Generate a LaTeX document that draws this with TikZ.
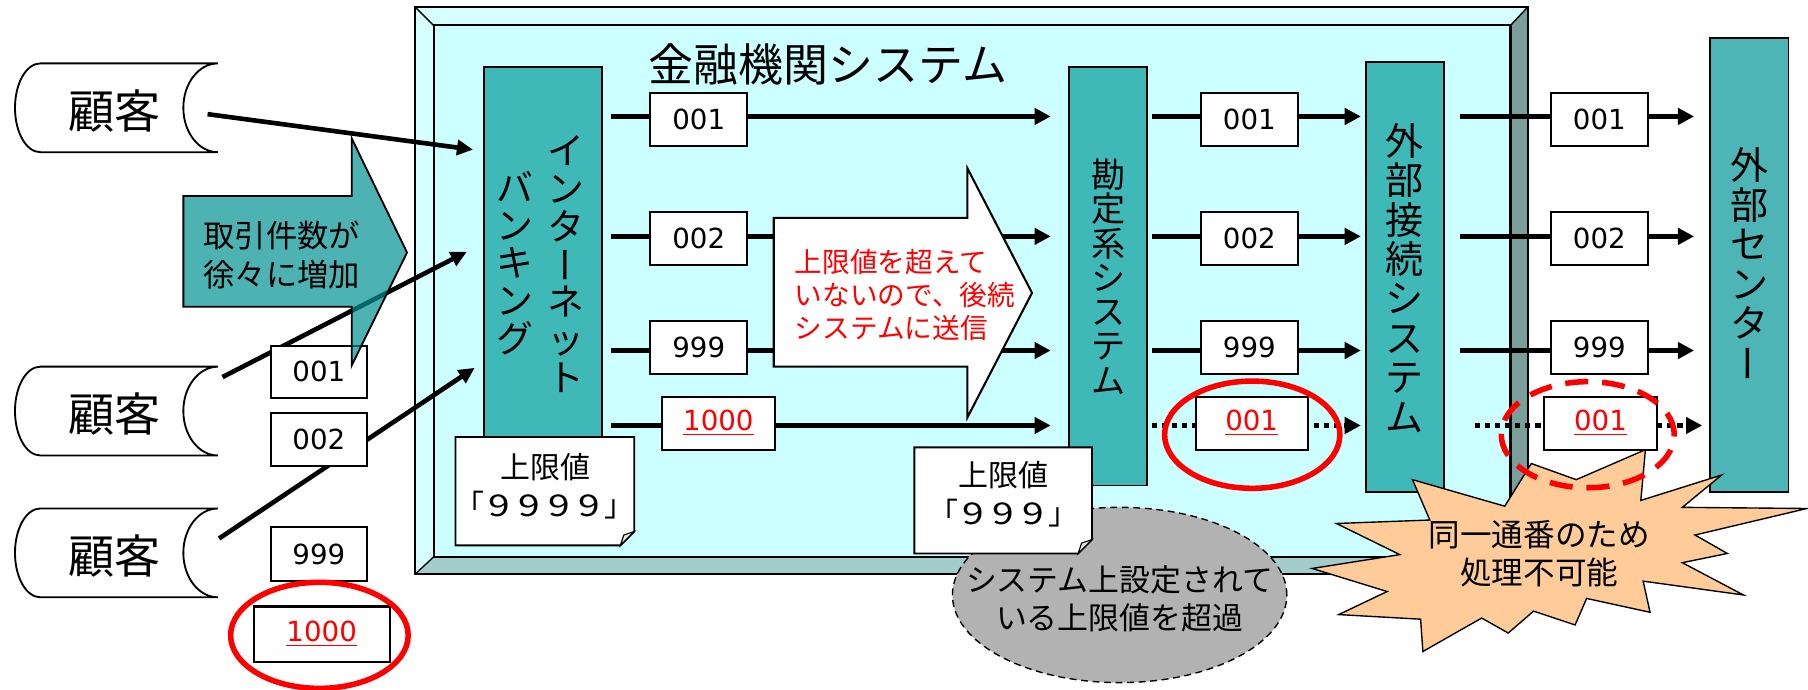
\documentclass[tikz,border=0pt]{standalone}
\usepackage{fontspec}
\setmainfont{Noto Sans CJK JP}
\newfontfamily\numfont{DejaVu Sans}
\usepackage{graphicx}
\usetikzlibrary{arrows.meta,shapes.geometric,calc}
\newcommand\myfs[2]{\fontsize{#1}{#2}\selectfont}
\newcommand\vchoon{\rotatebox[origin=c]{90}{\vphantom{国}ー}}
\newcommand\wnine{\makebox[13pt]{\scalebox{1.3}[1]{9}}}
\definecolor{systeal}{RGB}{63,184,184}
\definecolor{ecteal}{RGB}{77,181,181}
\definecolor{face}{RGB}{204,255,255}
\definecolor{bevlight}{RGB}{214,255,255}
\definecolor{bevbot}{RGB}{163,204,204}
\definecolor{bevright}{RGB}{122,158,154}
\definecolor{peach}{RGB}{255,204,153}
\definecolor{grayell}{RGB}{178,178,178}
\definecolor{arrteal}{RGB}{0,146,146}
\begin{document}
\lineskiplimit=-100pt
\begin{tikzpicture}[x=0.5pt,y=-0.5pt,
  sysbox/.style={draw=black,line width=0.8pt,fill=systeal,inner sep=0pt},
  vtext/.style={align=center,inner sep=0pt},
  numbox/.style={draw=black,line width=0.9pt,fill=white,inner sep=0pt,minimum width=42pt,minimum height=23pt,font=\numfont\myfs{12}{12}},
  redbox/.style={numbox,text=red},
  flow/.style={line width=2.2pt,-{Triangle[length=7pt,width=7pt]}},
  dotflow/.style={flow,dash pattern=on 2.2pt off 2.2pt},
  carrow/.style={line width=2pt,-{Triangle[length=7pt,width=6.5pt]}},
  redring/.style={draw=red,line width=2.4pt},
  notebox/.style={draw=black,line width=0.8pt,fill=white},
  notenum/.style={inner sep=0pt,font=\myfs{13}{13}},
  custline/.style={draw=black,line width=0.8pt,fill=white},
  cust/.pic={\path[custline] (88,-38.5) -- (-66,-38.5)
      .. controls (-78.2,-38.5) and (-88,-21.3) .. (-88,0)
      .. controls (-88,21.3) and (-78.2,38.5) .. (-66,38.5) -- (88,38.5)
      .. controls (71.4,38.5) and (58,21.3) .. (58,0)
      .. controls (58,-21.3) and (71.4,-38.5) .. (88,-38.5) -- cycle;}
]
\useasboundingbox (0,0) rectangle (1568,598);

% ---- frame ----
\fill[bevlight] (360,6) -- (1325,6) -- (1310,22) -- (376,22) -- cycle;
\fill[bevlight] (360,6) -- (376,22) -- (376,483) -- (360,498) -- cycle;
\fill[bevbot] (360,498) -- (376,483) -- (1310,483) -- (1325,498) -- cycle;
\fill[bevright] (1325,6) -- (1310,22) -- (1310,483) -- (1325,498) -- cycle;
\draw[fill=face,line width=0.9pt] (376,22) rectangle (1310,483);
\draw[line width=1pt] (360,6) rectangle (1325,498);
\draw[line width=0.6pt] (360,6) -- (376,22) (1325,6) -- (1310,22) (360,498) -- (376,483) (1325,498) -- (1310,483);

\node[inner sep=0pt,font=\myfs{19.5}{20}] (title) at (718,56) {金融機関システム};

% ---- system boxes ----
\node[sysbox,minimum width=51pt,minimum height=168.5pt] (ib) at (471,226.5) {};
\node[sysbox,minimum width=34pt,minimum height=181.5pt] (kj) at (961,239.5) {};
\node[sysbox,minimum width=33.5pt,minimum height=186.5pt] (gs) at (1218.5,240.5) {};
\node[sysbox,fill=ecteal,minimum width=34pt,minimum height=197pt] (ec) at (1517,230) {};

\node[vtext,font=\myfs{16}{16.35}] (ibtR) at (491,229) {イ\\ン\\タ\\\vchoon\\ネ\\ッ\\ト};
\node[vtext,font=\myfs{16}{16.35}] (ibtL) at (447,228) {バ\\ン\\キ\\ン\\グ};
\node[vtext,font=\myfs{14.8}{14.85}] (kjt) at (961,240) {勘\\定\\系\\シ\\ス\\テ\\ム};
\node[vtext,font=\myfs{16.5}{17.1}] (gst) at (1218.5,241) {外\\部\\接\\続\\シ\\ス\\テ\\ム};
\node[vtext,font=\myfs{16.5}{17.1}] (ect) at (1517,230) {外\\部\\セ\\ン\\タ\\\vchoon};

% ---- gray ellipse ----
\draw[line width=0.6pt,dash pattern=on 3pt off 2pt,fill=grayell] (971,516) ellipse [x radius=72.5pt,y radius=38pt];
\node[align=center,inner sep=0pt,font=\myfs{13.4}{16.5}] (lim) at (971,519) {システム上設定されて\\いる上限値を超過};

% ---- explosion ----
\draw[fill=peach,line width=0.6pt] (1225,416) -- (1305,439) -- (1328,402) -- (1367,416) -- (1427,390) -- (1423,434) -- (1493,412) -- (1459,440) -- (1567,441) -- (1470,464) -- (1498,480) -- (1459,488) -- (1512,516) -- (1425,504) -- (1431,531) -- (1376,519) -- (1366,542) -- (1330,530) -- (1308,549) -- (1285,536) -- (1234,565) -- (1232,537) -- (1161,533) -- (1203,513) -- (1138,493) -- (1214,481) -- (1159,454) -- (1240,451) -- cycle;
\node[align=center,inner sep=0pt,font=\myfs{13.7}{16.5}] (boom) at (1335,480) {同一通番のため\\処理不可能};

% ---- flows ----
\coordinate (r1) at (0,101);
\coordinate (r2) at (0,205);
\coordinate (r3) at (0,304);
\coordinate (r4) at (0,369);
\foreach \r in {r1,r2,r3,r4}{
  \draw[flow,shorten <=3.5pt,shorten >=7.5pt] (ib.east|-\r) -- (kj.west|-\r);
}
\foreach \r in {r1,r2,r3}{
  \draw[flow,shorten <=1.5pt,shorten >=2pt] (kj.east|-\r) -- (gs.west|-\r);
  \draw[flow,shorten <=6.5pt,shorten >=6.5pt] (gs.east|-\r) -- (ec.west|-\r);
}
\draw[dotflow,shorten <=1.5pt,shorten >=2pt] (kj.east|-r4) -- (gs.west|-r4);
\draw[dotflow,shorten <=13pt,shorten >=3pt] (gs.east|-r4) -- (ec.west|-r4);

% ---- big white arrow ----
\draw[fill=white,line width=0.9pt] (671,189) -- (839,189) -- (839,146) -- (895,254) -- (839,362) -- (839,318) -- (671,318) -- cycle;
\node[anchor=west,align=left,inner sep=0pt,text=red,font=\myfs{12}{14.3}] (wtxt) at (689,256) {上限値を超えて\\いないので、後続\\システムに送信};

% ---- number boxes ----
\node[numbox] (A1) at (606,103.5) {001};
\node[numbox] (A2) at (606,207) {002};
\node[numbox] (A3) at (606,301) {999};
\node[redbox,minimum width=49pt] (A4) at (623,367) {\underline{1000}\hspace{7pt}};
\node[numbox] (B1) at (1083.5,103.5) {001};
\node[numbox] (B2) at (1083.5,207) {002};
\node[numbox] (B3) at (1083.5,301) {999};
\node[redbox,minimum width=48.5pt] (B4) at (1085.5,367) {\underline{001}\hspace{6pt}};
\node[numbox] (C1) at (1387,103.5) {001};
\node[numbox] (C2) at (1387,207) {002};
\node[numbox] (C3) at (1387,301) {999};
\node[redbox,minimum width=49pt] (C4) at (1388,367) {\underline{001}\hspace{6pt}};

% ---- notes ----
\draw[notebox] (395,379) -- (550,379) -- (550,461) -- (538,473) -- (395,473) -- cycle;
\draw[line width=0.5pt,fill=gray!20] (550,461) -- (541,464) -- (538,473) -- cycle;
\node[inner sep=0pt,font=\myfs{13}{13}] (n1a) at (473,405) {上限値};
\node[notenum] (n1b) at (472,438) {「\wnine\wnine\wnine\wnine」};
\draw[notebox] (793,388) -- (947,388) -- (947,468) -- (935,480) -- (793,480) -- cycle;
\draw[line width=0.5pt,fill=gray!20] (947,468) -- (938,471) -- (935,480) -- cycle;
\node[inner sep=0pt,font=\myfs{13}{13}] (n2a) at (870,412) {上限値};
\node[notenum] (n2b) at (870,445) {「\wnine\wnine\wnine」};

% ---- customers ----
\pic at (101,93.5) {cust};
\pic at (101,356.5) {cust};
\pic at (101,479.5) {cust};
\node[inner sep=0pt,font=\myfs{20}{20}] (cust1) at (99,96) {顧客};
\node[inner sep=0pt,font=\myfs{20}{20}] (cust2) at (99,359) {顧客};
\node[inner sep=0pt,font=\myfs{20}{20}] (cust3) at (99,482) {顧客};
\coordinate (e1) at (0,131);
\coordinate (e2) at (0,211);
\coordinate (e3) at (0,314);
\draw[carrow,shorten >=4.5pt] ($(cust1.center)+(81,3)$) -- (ib.west|-e1);
\draw[carrow,shorten >=8pt] ($(cust2.center)+(94,-32)$) -- (ib.west|-e2);
\draw[carrow,shorten >=4.5pt] ($(cust3.center)+(91,-15)$) -- (ib.west|-e3);

\node[numbox,minimum width=41.5pt,minimum height=22.5pt] (L1) at (276.5,322.5) {001};
\node[numbox,minimum width=41.5pt] (L2) at (276.5,381) {002};
\node[numbox,minimum width=41.5pt,minimum height=23.5pt] (L3) at (276.5,480.5) {999};
\node[redbox,minimum width=59pt,minimum height=24pt] (L4) at (279,550) {\underline{1000}\hspace{8pt}};

% ---- teal arrow ----
\draw[fill=arrteal,fill opacity=0.7,line width=0.8pt] (159,170) -- (305,170) -- (305,120) -- (353,219) -- (305,317) -- (305,266) -- (159,266) -- cycle;
\node[anchor=west,align=left,inner sep=0pt,font=\myfs{13.6}{17}] (ttxt) at (176,221) {取引件数が\\徐々に増加};

% ---- red rings ----
\draw[redring] (277,551) ellipse [x radius=38.5pt,y radius=23pt];
\draw[redring] (1086,377) ellipse [x radius=38pt,y radius=23.25pt];
\draw[redring,dash pattern=on 10pt off 6pt] (1377,377) ellipse [x radius=37.5pt,y radius=23pt];
\end{tikzpicture}
\end{document}
